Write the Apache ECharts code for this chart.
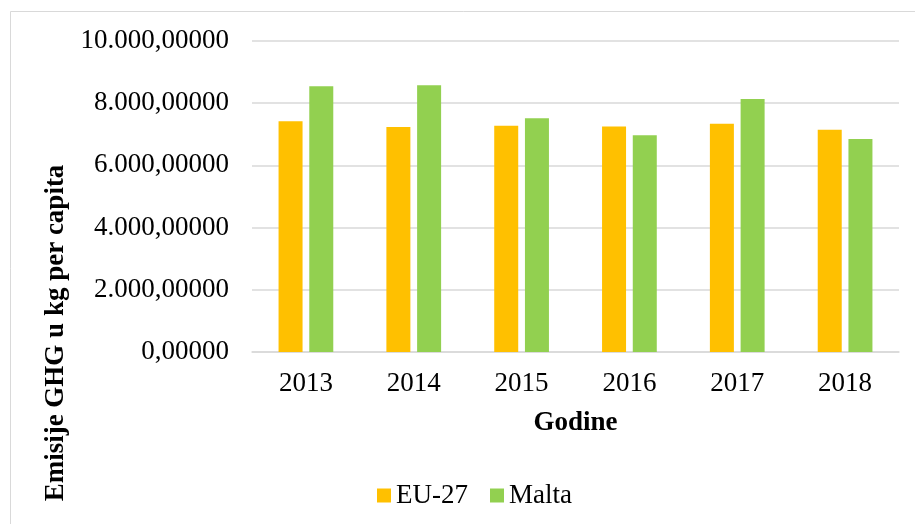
<!DOCTYPE html>
<html>
<head>
<meta charset="utf-8">
<script src="https://cdn.jsdelivr.net/npm/echarts@6/dist/echarts.min.js"></script>
<style>
  html, body { margin: 0; padding: 0; background: #fff; }
  #chart { width: 915px; height: 524px; }
</style>
</head>
<body>
<div id="chart"></div>
<script>
// godine (years) on x axis
const years = ["2013", "2014", "2015", "2016", "2017", "2018"];
// GHG emissions, kg per capita
const eu27 = [7420, 7232, 7274, 7254, 7338, 7146];
const malta = [8544, 8576, 7520, 6966, 8138, 6848];
const yTicks = [0, 2000, 4000, 6000, 8000, 10000];

const fontFam = '"Liberation Serif", "Times New Roman", serif';

// 10000 -> "10.000,00000"
function fmt(v) {
  let s = Math.round(v).toString().replace(/\B(?=(\d{3})+(?!\d))/g, ".");
  return s + ",00000";
}

let myChart = echarts.init(document.getElementById("chart"));
let option = {
  backgroundColor: "#fff",
  animation: false,
  graphic: [
    {
      type: "rect",
      shape: { x: 10.5, y: 11.5, width: 930, height: 540 },
      style: { fill: "none", stroke: "#d9d9d9", lineWidth: 1 },
      silent: true,
    },
    {
      // y axis title, sits lower than the axis middle in the original
      type: "text",
      x: 56,
      y: 333,
      rotation: Math.PI / 2,
      style: {
        text: "Emisije GHG u kg per capita",
        fontFamily: fontFam,
        fontSize: 27,
        fontWeight: "bold",
        fill: "#000",
        align: "center",
        verticalAlign: "middle",
      },
      silent: true,
    },
  ],
  grid: {
    left: 252,
    right: 16,
    top: 41,
    bottom: 172,
  },
  legend: {
    data: ["EU-27", "Malta"],
    left: 372,
    top: 477,
    itemWidth: 14,
    itemHeight: 14,
    itemGap: 22,
    icon: "rect",
    textStyle: {
      fontFamily: fontFam,
      fontSize: 27,
      color: "#000",
    },
  },
  xAxis: {
    type: "category",
    data: years,
    name: "Godine",
    nameLocation: "middle",
    nameGap: 58,
    nameTextStyle: {
      fontFamily: fontFam,
      fontSize: 27,
      fontWeight: "bold",
      color: "#000",
    },
    axisLine: { lineStyle: { color: "#d9d9d9", width: 1.5 } },
    axisTick: { show: false },
    axisLabel: {
      margin: 18,
      fontFamily: fontFam,
      fontSize: 27,
      color: "#000",
    },
  },
  yAxis: {
    type: "value",
    min: yTicks[0],
    max: yTicks[yTicks.length - 1],
    interval: 2000,
    axisLine: { show: false },
    axisTick: { show: false },
    splitLine: { lineStyle: { color: "#d9d9d9", width: 1.5 } },
    axisLabel: {
      margin: 23,
      fontFamily: fontFam,
      fontSize: 27,
      color: "#000",
      formatter: fmt,
    },
  },
  series: [
    {
      name: "EU-27",
      type: "bar",
      barWidth: 24,
      barGap: "28%",
      data: eu27,
      itemStyle: { color: "#FFC000" },
    },
    {
      name: "Malta",
      type: "bar",
      barWidth: 24,
      barGap: "28%",
      data: malta,
      itemStyle: { color: "#92D050" },
    },
  ],
};
myChart.setOption(option);
</script>
</body>
</html>
